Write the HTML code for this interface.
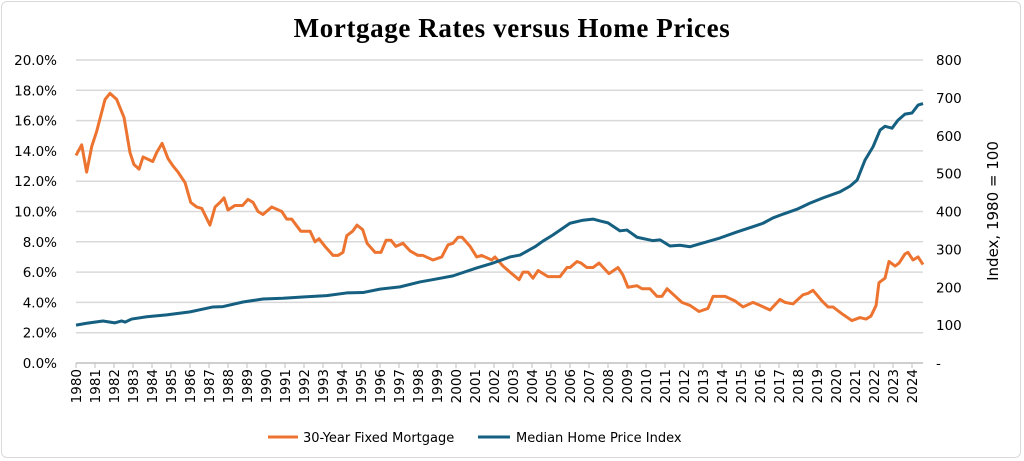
<!DOCTYPE html>
<html><head><meta charset="utf-8"><style>
body{margin:0;background:#fff;width:1024px;height:461px;overflow:hidden;font-family:"DejaVu Sans","Liberation Sans",sans-serif}
#frame{position:absolute;left:1px;top:1px;width:1020px;height:457px;border:1px solid #d9d9d9;border-radius:6px;box-sizing:border-box}
</style></head><body>
<div id="frame"></div>
<svg id="chart" width="1024" height="461" style="position:absolute;left:0;top:0">
<text x="512" y="37" text-anchor="middle" font-family="Liberation Serif, serif" font-weight="bold" font-size="27" letter-spacing="0.6" fill="#000">Mortgage Rates versus Home Prices</text>
<g id="grid"></g><g id="yl"></g><g id="yr"></g><g id="xl"></g><g id="lines"></g>
<text transform="translate(998,211) rotate(-90)" text-anchor="middle" font-size="15" fill="#000">Index, 1980 = 100</text>
<g>
<line x1="268" y1="437" x2="298" y2="437" stroke="#ED7430" stroke-width="3"/>
<text x="303" y="442" font-size="13" fill="#000">30-Year Fixed Mortgage</text>
<line x1="478" y1="437" x2="510" y2="437" stroke="#155F81" stroke-width="3"/>
<text x="516" y="442" font-size="13" fill="#000">Median Home Price Index</text>
</g>
</svg>
<script>
const rateYears=[1980.0,1980.3,1980.56,1980.83,1981.09,1981.53,1981.79,1982.14,1982.53,1982.84,1983.05,1983.32,1983.53,1984.04,1984.25,1984.53,1984.84,1985.11,1985.37,1985.74,1986.04,1986.35,1986.62,1987.05,1987.32,1987.58,1987.79,1988.0,1988.37,1988.77,1989.05,1989.32,1989.58,1989.84,1990.3,1990.83,1991.09,1991.35,1991.83,1992.32,1992.58,1992.79,1993.1,1993.53,1993.79,1994.05,1994.25,1994.56,1994.79,1995.09,1995.32,1995.74,1996.05,1996.32,1996.58,1996.83,1997.21,1997.58,1998.0,1998.26,1998.79,1999.25,1999.58,1999.84,2000.11,2000.32,2000.74,2001.09,2001.35,2001.88,2002.05,2002.47,2002.84,2003.32,2003.53,2003.79,2004.05,2004.32,2004.84,2005.47,2005.84,2006.0,2006.37,2006.58,2006.89,2007.21,2007.53,2008.05,2008.53,2008.79,2009.05,2009.53,2009.79,2010.21,2010.58,2010.84,2011.11,2011.37,2011.89,2012.32,2012.79,2013.26,2013.53,2013.89,2014.16,2014.68,2015.11,2015.63,2016.0,2016.53,2017.05,2017.32,2017.74,2018.26,2018.53,2018.79,2019.26,2019.58,2019.84,2020.37,2020.84,2021.26,2021.58,2021.84,2022.11,2022.26,2022.58,2022.79,2023.11,2023.32,2023.63,2023.79,2024.05,2024.32,2024.58];
const rateValues=[13.7,14.4,12.6,14.3,15.3,17.4,17.8,17.4,16.2,13.9,13.1,12.8,13.6,13.3,13.9,14.5,13.5,13.0,12.6,11.9,10.6,10.3,10.2,9.1,10.3,10.6,10.9,10.1,10.4,10.4,10.8,10.6,10.0,9.8,10.3,10.0,9.5,9.5,8.7,8.7,8.0,8.2,7.7,7.1,7.1,7.3,8.4,8.7,9.1,8.8,7.9,7.3,7.3,8.1,8.1,7.7,7.9,7.4,7.1,7.1,6.8,7.0,7.8,7.9,8.3,8.3,7.7,7.0,7.1,6.8,7.0,6.4,6.0,5.5,6.0,6.0,5.6,6.1,5.7,5.7,6.3,6.3,6.7,6.6,6.3,6.3,6.6,5.9,6.3,5.8,5.0,5.1,4.9,4.9,4.4,4.4,4.9,4.6,4.0,3.8,3.4,3.6,4.4,4.4,4.4,4.1,3.7,4.0,3.8,3.5,4.2,4.0,3.9,4.5,4.6,4.8,4.1,3.7,3.7,3.2,2.8,3.0,2.9,3.1,3.8,5.3,5.6,6.7,6.4,6.6,7.2,7.3,6.8,7.0,6.5];
const hpiYears=[1980,1980.56,1981.42,1982.05,1982.4,1982.58,1982.93,1983.72,1984.77,1986.0,1987.21,1987.74,1988.79,1989.84,1990.89,1992.14,1993.19,1994.25,1995.1,1996.0,1997.05,1998.1,1998.98,1999.84,2001.09,2001.95,2002.84,2003.37,2004.16,2004.58,2005.1,2006.0,2006.68,2007.21,2007.58,2008.0,2008.63,2009.0,2009.53,2010.37,2010.74,2011.26,2011.79,2012.32,2013.0,2013.89,2014.79,2015.63,2016.16,2016.68,2017.21,2017.95,2018.63,2019.32,2020.21,2020.74,2021.11,2021.53,2021.95,2022.32,2022.58,2022.95,2023.26,2023.63,2024.0,2024.32,2024.58];
const hpiValues=[100,105,111,106,111,108,116,122,127,135,148,149,161,169,171,175,178,185,186,195,201,214,222,230,251,264,280,285,307,322,338,369,377,380,375,370,349,351,332,323,325,309,311,307,317,330,346,360,369,383,393,406,422,436,452,467,483,536,571,615,625,620,641,657,660,681,685];
const leftTicks=["0.0%","2.0%","4.0%","6.0%","8.0%","10.0%","12.0%","14.0%","16.0%","18.0%","20.0%"];
const rightTicks=["-","100","200","300","400","500","600","700","800"];
const xYears=[];for(let y=1980;y<=2024;y++)xYears.push(y);

const X0=76,YW=19,YB=363,YT=60;
const xs=y=>X0+(y-1980)*YW;
const yl=v=>YB-(v/20)*(YB-YT);
const yr=v=>YB-(v/800)*(YB-YT);
const NS="http://www.w3.org/2000/svg";
function mk(tag,attrs,parent,txt){const e=document.createElementNS(NS,tag);for(const k in attrs)e.setAttribute(k,attrs[k]);if(txt!==undefined)e.textContent=txt;document.getElementById(parent).appendChild(e);return e;}
leftTicks.forEach((t,i)=>{const y=yl(i*2);
 const g=mk('line',{x1:X0,x2:923,y1:y,y2:y,stroke:i==0?'#bfbfbf':'#d9d9d9','stroke-width':1.5},'grid');
 
 
 const t1=mk('text',{x:57,y:y+5,'text-anchor':'end','font-size':13.5,fill:'#000'},'yl',t);
 
 
});
rightTicks.forEach((t,i)=>{const y=yr(i*100);
 const t2=mk('text',{x:936,y:y+5,'font-size':13.5,fill:'#000'},'yr',t);
 
 
});
xYears.forEach(yv=>{const x=xs(yv);
 const tk=mk('line',{x1:x,x2:x,y1:YB,y2:YB+5,stroke:'#bfbfbf'},'grid');
 
 
 const t3=mk('text',{transform:`translate(${x+5},${YB+6}) rotate(-90)`,'text-anchor':'end','font-size':13.5,fill:'#000'},'xl',String(yv));
 
 
});
const p1=mk('polyline',{points:rateYears.map((y,i)=>xs(y)+','+yl(rateValues[i])).join(' '),fill:'none',stroke:'#ED7430','stroke-width':3,'stroke-linejoin':'round'},'lines');


const p2=mk('polyline',{points:hpiYears.map((y,i)=>xs(y)+','+yr(hpiValues[i])).join(' '),fill:'none',stroke:'#155F81','stroke-width':3,'stroke-linejoin':'round'},'lines');


</script>
</body></html>
